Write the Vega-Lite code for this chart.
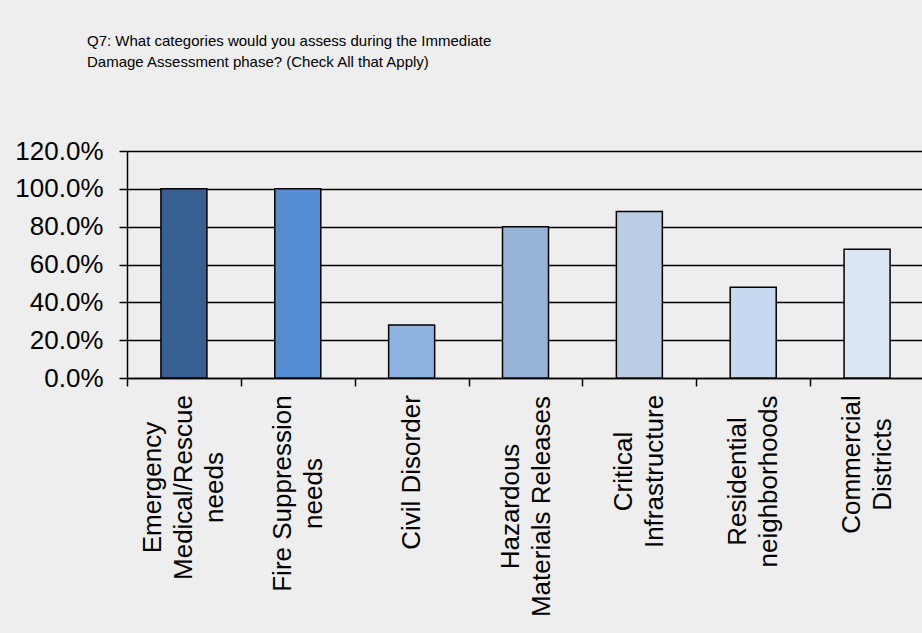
{
  "$schema": "https://vega.github.io/schema/vega-lite/v6.json",
  "width": 797,
  "height": 227,
  "autosize": {"type": "none"},
  "padding": {"left": 127, "top": 151, "right": 0, "bottom": 255},
  "background": "#eeeeee",
  "title": {
    "text": ["Q7: What categories would you assess during the Immediate", "Damage Assessment phase?  (Check All that Apply)"],
    "anchor": "start",
    "frame": "group",
    "dx": -40,
    "offset": 68,
    "font": "Liberation Sans",
    "fontSize": 15,
    "fontWeight": "normal",
    "lineHeight": 21,
    "color": "#000000"
  },
  "config": {
    "view": {"stroke": null},
    "axis": {"labelFont": "Liberation Sans", "labelColor": "#000000", "domainColor": "#000000", "tickColor": "#000000", "domainWidth": 1.5, "tickWidth": 1.5}
  },
  "data": {
    "values": [
      {"category": "Emergency Medical/Rescue needs", "pct": 1.0},
      {"category": "Fire Suppression needs", "pct": 1.0},
      {"category": "Civil Disorder", "pct": 0.28},
      {"category": "Hazardous Materials Releases", "pct": 0.8},
      {"category": "Critical Infrastructure", "pct": 0.88},
      {"category": "Residential neighborhoods", "pct": 0.48},
      {"category": "Commercial Districts", "pct": 0.68}
    ]
  },
  "mark": {"type": "bar", "width": 46, "stroke": "#000000", "strokeWidth": 1.5},
  "encoding": {
    "x": {
      "field": "category",
      "type": "nominal",
      "sort": null,
      "scale": {"paddingInner": 0, "paddingOuter": 0},
      "axis": {
        "title": null,
        "tickBand": "extent",
        "tickSize": 8,
        "labelAngle": -90,
        "labelAlign": "center",
        "labelBaseline": "middle",
        "labelFontSize": 26,
        "labelLineHeight": 31,
        "labelLimit": 400,
        "labelPadding": {
          "condition": [
            {"test": "datum.value == 'Emergency Medical/Rescue needs'", "value": 101},
            {"test": "datum.value == 'Fire Suppression needs'", "value": 107},
            {"test": "datum.value == 'Civil Disorder'", "value": 86},
            {"test": "datum.value == 'Hazardous Materials Releases'", "value": 120},
            {"test": "datum.value == 'Critical Infrastructure'", "value": 85},
            {"test": "datum.value == 'Residential neighborhoods'", "value": 95}
          ],
          "value": 78
        },
        "labelOffset": {
          "condition": [
            {"test": "datum.value == 'Emergency Medical/Rescue needs'", "value": -31},
            {"test": "datum.value == 'Civil Disorder'", "value": 0}
          ],
          "value": -15.5
        },
        "labelExpr": "datum.label == 'Emergency Medical/Rescue needs' ? ['Emergency', 'Medical/Rescue', 'needs'] : datum.label == 'Fire Suppression needs' ? ['Fire Suppression', 'needs'] : datum.label == 'Hazardous Materials Releases' ? ['Hazardous', 'Materials Releases'] : datum.label == 'Critical Infrastructure' ? ['Critical', 'Infrastructure'] : datum.label == 'Residential neighborhoods' ? ['Residential', 'neighborhoods'] : datum.label == 'Commercial Districts' ? ['Commercial', 'Districts'] : datum.label"
      }
    },
    "y": {
      "field": "pct",
      "type": "quantitative",
      "scale": {"domain": [0, 1.2], "nice": false},
      "axis": {
        "title": null,
        "values": [0, 0.2, 0.4, 0.6, 0.8, 1.0, 1.2],
        "format": ".1%",
        "grid": true,
        "gridColor": "#000000",
        "gridWidth": 1.5,
        "gridOpacity": 1,
        "tickSize": 8,
        "labelPadding": 16,
        "labelFontSize": 26
      }
    },
    "color": {
      "field": "category",
      "type": "nominal",
      "sort": null,
      "legend": null,
      "scale": {
        "domain": ["Emergency Medical/Rescue needs", "Fire Suppression needs", "Civil Disorder", "Hazardous Materials Releases", "Critical Infrastructure", "Residential neighborhoods", "Commercial Districts"],
        "range": ["#385f92", "#558dd3", "#8db3e2", "#95b3d7", "#b9cde5", "#c6d9f1", "#dce6f2"]
      }
    }
  }
}
